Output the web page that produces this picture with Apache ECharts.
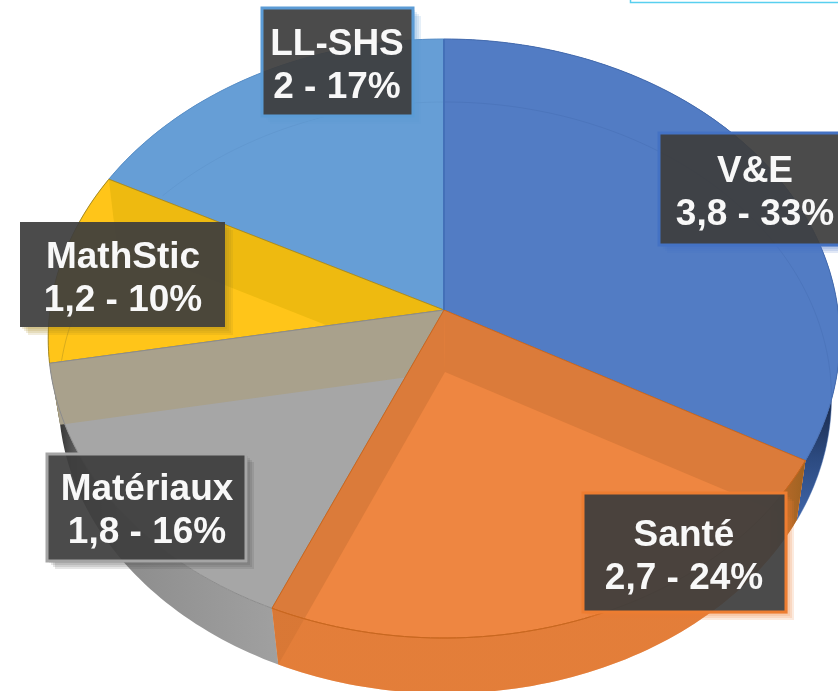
<!DOCTYPE html>
<html>
<head>
<meta charset="utf-8">
<style>
  html, body { margin: 0; padding: 0; background: #fff; }
  #main { width: 838px; height: 691px; }
</style>
</head>
<body>
<div id="main"></div>
<script src="https://cdn.jsdelivr.net/npm/echarts@6/dist/echarts.min.js"></script>
<script>
// chart data
const categories = ['V&E', 'Santé', 'Matériaux', 'MathStic', 'LL-SHS'];
const values = [3.8, 2.7, 1.8, 1.2, 2];
const percents = [33, 24, 16, 10, 17];

// styles, same order as categories
const topColors = ['#527CC4', '#EE8641', '#A6A6A6', '#FFC519', '#669ED6'];
const edgeColors = ['#456DB2', '#C9671F', '#8C8C8C', '#A98C22', '#5A90C8'];
const bandColors = [null, '#DB7B3A', '#A9A18C', '#EEBA10', null];
const bandSides = [[], [0, 1], [1], [1], []]; // 0 = start of slice, 1 = end of slice
const borderColors = ['#4472C4', '#ED7D31', '#A5A5A5', null, '#5B9BD5'];
const shadowColors = ['rgba(68,114,196,.16)', 'rgba(237,125,49,.16)', 'rgba(70,70,70,.14)', 'rgba(170,135,30,.16)', 'rgba(91,155,213,.16)'];
// share of the bottom rim that shows through each slice
const rimSpans = [[0, 1], null, null, [0.33, 0.75], [0.19, 1]];
// label boxes: x, y, w, h, text centre x, text centre y
const boxes = [
  [659, 133, 194, 112, 755, 193],
  [583, 493, 203, 119, 684, 557],
  [47, 454, 199, 107, 147, 511],
  [20, 222, 205, 105, 123, 279],
  [262, 8, 151, 108, 337, 66]
];

// painting order: last one ends up on top
const drawOrder = [4, 0, 3, 2, 1];

// the two perspective discs (top face and bottom face of the pie)
const topDisc = { cx: 444, cy: 310, a: 394, b: 296.8, k: 0.0952 };
const lowDisc = { cx: 445, cy: 372, a: 385, b: 293.5, k: 0.087 };

const total = values.reduce((s, v) => s + v, 0);
const starts = [];
values.reduce((s, v, i) => { starts[i] = s; return s + v; }, 0);
const angleOf = (sum) => (sum / total) * Math.PI * 2;

function proj(disc, t) {
  const u = Math.sin(t);
  const v = Math.cos(t);
  const den = 1 + disc.k * v;
  return [disc.cx + (disc.a * u) / den, disc.cy - (disc.b * v) / den];
}
function arc(disc, t0, t1) {
  const n = Math.max(2, Math.ceil(Math.abs(t1 - t0) / 0.02));
  const pts = [];
  for (let i = 0; i <= n; i++) pts.push(proj(disc, t0 + ((t1 - t0) * i) / n));
  return pts;
}
function range(i) {
  return [angleOf(starts[i]), angleOf(starts[i] + values[i])];
}

// outer side wall of every slice
const wallFills = [
  { type: 'linear', global: true, x: 0, y: 390, x2: 0, y2: 525, colorStops: [
    { offset: 0, color: '#16233f' }, { offset: 0.5, color: '#2c4a80' }, { offset: 1, color: '#4168ac' } ] },
  '#EE8641',
  { type: 'linear', global: true, x: 58, y: 0, x2: 277, y2: 0, colorStops: [
    { offset: 0, color: '#333333' }, { offset: 0.1, color: '#666666' }, { offset: 0.3, color: '#8d8d8d' }, { offset: 1, color: '#a0a0a0' } ] },
  '#8a7a30',
  '#4f7db0'
];
function renderWall(params) {
  const i = params.dataIndex;
  const [t0, t1] = range(i);
  return {
    type: 'polygon',
    shape: { points: arc(topDisc, t0, t1).concat(arc(lowDisc, t1, t0)) },
    style: { fill: wallFills[i] }
  };
}

// top face of a slice, with the inner faces seen through it
function renderTop(params) {
  const i = drawOrder[params.dataIndex];
  const [t0, t1] = range(i);
  const apex = [topDisc.cx, topDisc.cy];
  const children = [{
    type: 'polygon',
    shape: { points: [apex].concat(arc(topDisc, t0, t1)) },
    style: { fill: topColors[i] }
  }];
  bandSides[i].forEach((side) => {
    const t = side ? t1 : t0;
    children.push({
      type: 'polygon',
      shape: { points: [apex, proj(topDisc, t), proj(lowDisc, t), [lowDisc.cx, lowDisc.cy]] },
      style: { fill: bandColors[i] }
    });
  });
  children.push({
    type: 'polygon',
    shape: { points: [apex].concat(arc(topDisc, t0, t1)) },
    style: { fill: 'none', stroke: edgeColors[i], lineWidth: 1 }
  });
  return { type: 'group', children };
}

// thin details above the faces
function renderDetails(params) {
  const i = params.dataIndex;
  const [t0, t1] = range(i);
  const children = [];
  if (rimSpans[i]) {
    const [a, b] = rimSpans[i];
    children.push({
      type: 'polyline',
      shape: { points: arc(lowDisc, t0 + (t1 - t0) * a, t0 + (t1 - t0) * b) },
      style: { fill: 'none', stroke: edgeColors[i], lineWidth: 1, opacity: 0.45 }
    });
  }
  if (i === 1) {
    // orange wall is translucent in front of the bottom face
    children.push({
      type: 'polygon',
      shape: { points: arc(topDisc, t0, t1).concat(arc(lowDisc, t1, t0)) },
      style: {
        fill: { type: 'linear', global: true, x: 277, y: 0, x2: 806, y2: 0, colorStops: [
          { offset: 0, color: 'rgba(214,116,48,.45)' },
          { offset: 0.92, color: 'rgba(214,116,48,.45)' },
          { offset: 0.96, color: 'rgba(170,100,35,.8)' },
          { offset: 1, color: 'rgba(150,95,30,.9)' } ] }
      }
    });
    children.push({
      type: 'polyline',
      shape: { points: arc(topDisc, t0, t1) },
      style: { fill: 'none', stroke: '#C9671F', lineWidth: 1 }
    });
  }
  if (i === 4) {
    children.push({
      type: 'line',
      shape: { x1: topDisc.cx, y1: topDisc.cy, x2: topDisc.cx, y2: proj(topDisc, 0)[1] },
      style: { stroke: '#4370B8', lineWidth: 2 }
    });
  }
  return { type: 'group', children };
}

// soft shadow only outside the box, the box itself is see-through
function boxShadow(x, y, w, h, color) {
  return [2, 4, 6, 8].map((o) => ({
    type: 'polygon',
    z: 99,
    shape: { points: [
      [x + w, y + o], [x + w + o, y + o], [x + w + o, y + h + o],
      [x + o, y + h + o], [x + o, y + h], [x + w, y + h]
    ] },
    style: { fill: color }
  }));
}

const labelBoxes = categories.map((name, i) => {
  const [x, y, w, h, tx, ty] = boxes[i];
  return boxShadow(x, y, w, h, shadowColors[i]).concat([
    {
      type: 'rect',
      z: 100,
      shape: { x, y, width: w, height: h },
      style: {
        fill: 'rgba(61,61,61,.93)',
        stroke: borderColors[i] || 'transparent',
        lineWidth: borderColors[i] ? 3 : 0
      }
    },
    {
      type: 'text',
      z: 101,
      x: tx,
      y: ty,
      style: {
        text: name + '\n' + String(values[i]).replace('.', ',') + ' - ' + percents[i] + '%',
        fill: '#F8F8F8',
        font: 'bold 37px "Liberation Sans", Arial, sans-serif',
        lineHeight: 43,
        align: 'center',
        verticalAlign: 'middle'
      }
    }
  ]);
}).flat();

const myChart = echarts.init(document.getElementById('main'));
myChart.setOption({
  animation: false,
  backgroundColor: '#fff',
  tooltip: { show: false },
  series: [
    { type: 'custom', coordinateSystem: 'none', z: 2, silent: true, renderItem: renderWall, data: values },
    { type: 'custom', coordinateSystem: 'none', z: 3, silent: true, renderItem: renderTop, data: drawOrder.map((i) => values[i]) },
    { type: 'custom', coordinateSystem: 'none', z: 4, silent: true, renderItem: renderDetails, data: values }
  ],
  graphic: labelBoxes.concat([
    {
      type: 'polyline',
      z: 100,
      shape: { points: [[630.5, 0], [630.5, 2.5], [838, 2.5]] },
      style: { fill: 'none', stroke: '#58CFEF', lineWidth: 1.5 }
    }
  ])
});
</script>
</body>
</html>
